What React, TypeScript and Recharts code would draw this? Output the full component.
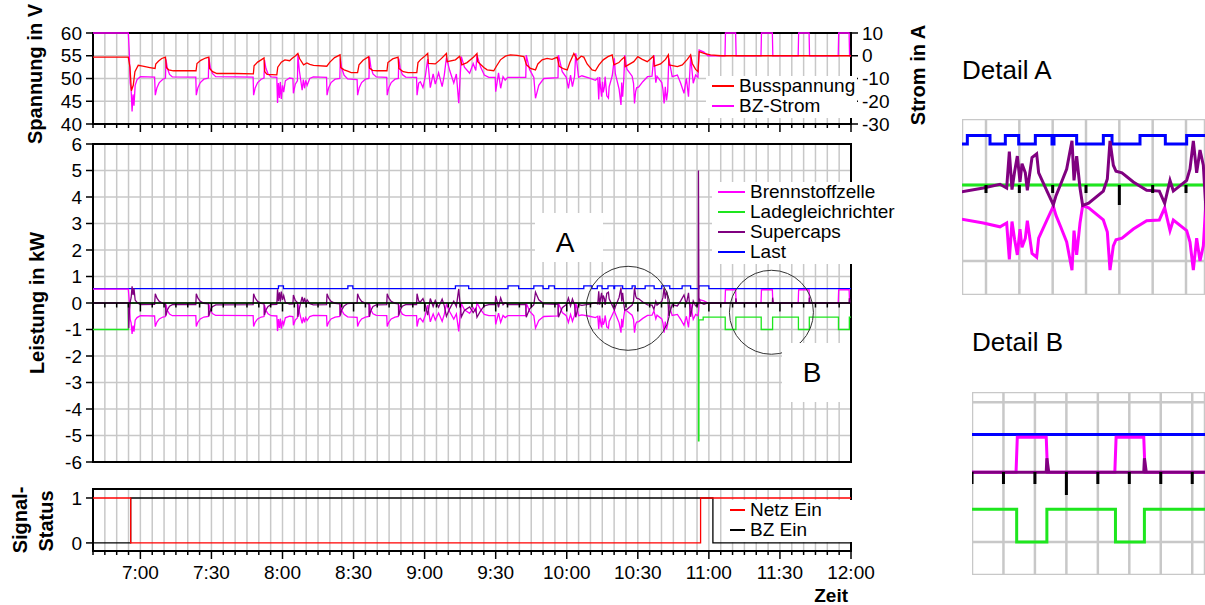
import React from 'react';
import { LineChart, Line, XAxis, YAxis, CartesianGrid, ReferenceArea, ReferenceDot, Legend } from 'recharts';

type Pt = [number, number];

// time in minutes since midnight (400 = 6:40, 720 = 12:00)
const busVoltage: Pt[] = [
  [400, 54.7], [414.9, 54.7], [415.6, 52.5], [416.2, 47.3], [417, 48.5], [417.7, 51.5], [419.1, 52.9], [421, 52.7], [424, 52.4], [426.2, 52.2],
  [426.5, 53.2], [427.6, 53.8], [429, 54.4], [430.6, 54.7], [431, 52.4], [432, 51.9], [433.9, 51.7], [443.5, 51.7], [443.9, 53.3], [445.5, 54],
  [447.5, 54.5], [448.9, 54.7], [449.2, 52.2], [450.5, 51.5], [452.3, 51.1], [460, 51.1], [467.7, 51], [468, 52.8], [469.5, 53.6], [471, 54.1],
  [472.2, 54.5], [472.5, 51.5], [473.5, 50.9], [477.6, 50.8], [478, 52.5], [479.5, 53.6], [481, 54.1], [483, 53.9], [484, 54.4], [485.5, 55],
  [486.5, 55.5], [487.2, 54.4], [488.9, 53], [490.3, 53.4], [491.5, 53.1], [493.1, 52.9], [498.7, 52.7], [500, 53.6], [502, 54.6], [504.3, 55.2],
  [504.6, 52.4], [506, 51.9], [507.5, 51.6], [509, 51.3], [511.7, 51.3], [512.3, 53], [514, 54], [516.4, 54.8], [516.7, 52.3], [518, 51.8],
  [520, 51.7], [524.1, 51.7], [524.5, 53.5], [526.5, 54.3], [528.8, 54.7], [529.1, 52.2], [531, 51.5], [533, 51.3], [536.7, 51.3], [537.2, 53.5],
  [538.2, 54.1], [539.6, 54.7], [541.3, 55.5], [541.6, 53.3], [544.5, 53.2], [546.7, 54.2], [549.2, 55.5], [549.5, 53.7], [553, 54.1], [554.8, 54.9],
  [555.7, 53], [557.9, 53.5], [560.7, 54.7], [562.1, 55.5], [562.4, 53.7], [565, 52.4], [566.4, 51.9], [569.2, 51.7], [570.3, 52.7], [572, 54.1],
  [574.1, 54.9], [576.2, 55.2], [579, 55.1], [581.9, 54.8], [583, 53], [584.7, 52.2], [586.8, 51.9], [587.8, 53.2], [589.6, 54.1], [591.7, 54.4],
  [593.8, 54.2], [596, 54.7], [596.8, 52.7], [598.8, 52.1], [600.2, 51.9], [601.3, 53.5], [603, 55.5], [604.4, 54.1], [606.1, 54.9], [607.2, 54.7],
  [608.6, 53.2], [610.7, 51.9], [612.1, 51.7], [613.6, 53], [615.4, 54.1], [617.4, 54.8], [619.2, 55.2], [619.9, 53], [622, 53.5], [623.2, 54.2],
  [624.4, 54.7], [624.7, 52.6], [628.3, 53.7], [630, 54.8], [631.9, 54.2], [634, 53.7], [636.6, 54.9], [636.9, 52.7], [639.6, 53.2], [641.7, 54.2],
  [642.9, 55.2], [643.2, 53], [646.7, 52.6], [648.8, 53], [650.9, 54.2], [652.3, 55.2], [653, 53.3], [654.4, 52], [655.4, 51.5], [655.9, 55.9],
  [657.9, 55.5], [660.7, 55.2], [665, 55], [720, 55],
];

const bzCurrent: Pt[] = [
  [400, 10], [414.9, 10], [415.3, 2], [415.7, -12], [416.1, -15], [416.5, -24.5], [416.9, -17], [417.3, -22], [417.8, -13], [418.6, -10.5], [420, -9.2], [426, -9.4],
  [426.3, -17.3], [427, -14], [428, -11.8], [429.5, -10.3], [430.6, -9.8], [430.8, -1.6], [431.4, -5.5], [432.3, -8.2], [433.5, -9.3], [443.4, -9.4],
  [443.6, -17.3], [444.3, -14], [445.3, -11.8], [446.8, -10.3], [448.7, -9.8], [448.9, -0.8], [449.5, -5], [450.4, -7.8], [451.8, -9.2], [467.6, -9.4],
  [467.8, -17.3], [468.5, -14], [469.5, -11.8], [471, -10.3], [472.2, -9.8], [472.4, -1.9], [473, -5.5], [473.9, -8], [475.2, -9.3], [477.6, -9.5],
  [477.9, -20.8], [478.3, -12], [478.7, -18.5], [479.1, -11.5], [479.5, -19], [480, -13], [480.5, -16], [481.2, -11], [483, -9.8], [484.4, -10],
  [484.6, -16.5], [485.4, -12.5], [486.3, -11], [486.5, 0.3], [487.1, -6.5], [487.8, -11.5], [488.3, -15.1], [488.8, -10.5], [489.3, -14.3], [489.8, -10.8],
  [490.4, -13], [491.5, -10], [493, -9.3], [498.6, -9.5],
  [498.8, -17.3], [499.5, -14], [500.5, -11.8], [502.2, -10.3], [504.2, -10], [504.4, -1.2], [505, -5.5], [506, -8.5], [507.5, -10.2], [511.5, -10.5],
  [511.7, -17.3], [512.4, -14], [513.4, -11.8], [515, -10.3], [516.5, -10], [516.7, -0.4], [517.3, -5], [518.2, -8], [519.6, -9.3], [524, -9.5],
  [524.2, -17.3], [524.9, -14], [525.9, -11.8], [527.5, -10.3], [528.9, -10], [529.1, -1.2], [529.7, -5.5], [530.6, -8.3], [532, -9.4], [536.6, -9.5],
  [536.8, -17.3], [537.5, -12], [538.2, -11.4], [539.3, -14], [540.3, -9], [541.3, -1.5], [542.4, -14], [543.6, -8], [544.5, -12.5], [545.9, -7.5],
  [547.4, -13.6], [548.3, -8.5], [549.2, -0.8], [550.6, -6.5], [552.3, -12], [553.4, -8], [554.4, -20.9], [555, -9], [555.5, -0.4], [556.8, -5],
  [559, -7.7], [560.5, -3.5], [561.6, -6.5], [562.1, 0.3], [563.6, -4.8], [565.2, -8.5], [567.1, -9.5], [569.8, -9.5], [570, -15.8], [571.2, -7.5],
  [572.1, -14.3], [573.1, -9.2], [574, -10.7], [575.1, -9.5], [582.7, -9.5], [582.9, 0.3], [584.3, -6], [586.1, -9.5], [586.8, -18.7], [588.2, -13],
  [590.3, -10], [596.3, -9.6], [596.5, 0.3], [598.1, -7], [599.8, -9.5], [600.7, -14.3], [601.6, -8.5], [602.4, -13.6], [603.3, -9], [603.8, 1.1], [605, -9.5],
  [606.4, -8.8], [609.6, -9.8], [612.1, -10.8], [613.1, -9.8], [613.5, -19.2], [613.9, -9.4], [614.3, -14.1], [614.7, -18], [615.1, -11.4], [615.4, -16.1],
  [615.9, -13.7], [616.2, -9.2], [616.9, -17.6], [617.6, -18.6], [617.9, -13.7], [619.2, -8.8], [620.1, -1.1], [620.5, -7.8], [621.2, -10.8], [622.1, -14.7],
  [622.9, -21.6], [623.2, -11.8], [623.6, -18], [624.1, -9.8], [624.5, 0.3], [625.4, -5.9], [627.6, -9], [628.2, -12.2], [628.6, -21], [629.1, -15.7],
  [629.5, -14.1], [630.4, -13.7], [632.1, -11.4], [634.1, -9.2], [636, -9], [636.8, 0.3], [637.6, -11.8], [638.1, -9], [640.1, -11.8], [640.6, -14.7],
  [641.1, -21], [641.6, -13.7], [642.1, -19.6], [642.6, -15.7], [643.1, -1.1], [644.5, -9.2], [646.7, -8.5], [648.1, -12.1], [649.5, -16.5], [650.5, -9.9],
  [651.4, -18], [652.3, -0.4], [653.4, -12.1], [654.4, -8.5], [655.4, -9.5],
  [655.9, 2.5], [657.9, 1.6], [659.6, 0], [666.8, 0], [667, 10], [671.3, 10], [671.5, 0], [682, 0], [682.2, 10], [686.8, 10], [687, 0],
  [697.7, 0], [697.9, 10], [702.3, 10], [702.5, 0], [714.6, 0], [714.8, 10], [719.2, 10], [719.4, 0], [720, 0],
];

const fuelCellPower: Pt[] = [
  [400, 0.52], [414.9, 0.52], [415.3, 0.1], [415.7, -0.62], [416.1, -0.75], [416.5, -1.17], [416.9, -0.85], [417.3, -1.08], [417.8, -0.65], [418.6, -0.55], [420, -0.48], [426, -0.49],
  [426.3, -0.89], [427, -0.72], [428, -0.6], [429.5, -0.53], [430.6, -0.51], [430.8, -0.06], [431.4, -0.28], [432.3, -0.42], [433.5, -0.48], [443.4, -0.48],
  [443.6, -0.89], [444.3, -0.72], [445.3, -0.6], [446.8, -0.53], [448.7, -0.51], [448.9, -0.04], [449.5, -0.26], [450.4, -0.4], [451.8, -0.47], [467.6, -0.48],
  [467.8, -0.89], [468.5, -0.72], [469.5, -0.6], [471, -0.53], [472.2, -0.51], [472.4, -0.08], [473, -0.28], [473.9, -0.41], [475.2, -0.48], [477.6, -0.49],
  [477.9, -1.06], [478.3, -0.61], [478.7, -0.94], [479.1, -0.59], [479.5, -0.97], [480, -0.66], [480.5, -0.82], [481.2, -0.56], [483, -0.5], [484.4, -0.51],
  [484.6, -0.84], [485.4, -0.64], [486.3, -0.56], [486.5, -0.02], [487.1, -0.33], [487.8, -0.59], [488.3, -0.77], [488.8, -0.54], [489.3, -0.73], [489.8, -0.55],
  [490.4, -0.66], [491.5, -0.51], [493, -0.47], [498.6, -0.48],
  [498.8, -0.89], [499.5, -0.72], [500.5, -0.6], [502.2, -0.53], [504.2, -0.51], [504.4, -0.06], [505, -0.28], [506, -0.43], [507.5, -0.52], [511.5, -0.54],
  [511.7, -0.89], [512.4, -0.72], [513.4, -0.6], [515, -0.53], [516.5, -0.51], [516.7, -0.02], [517.3, -0.26], [518.2, -0.41], [519.6, -0.47], [524, -0.48],
  [524.2, -0.89], [524.9, -0.72], [525.9, -0.6], [527.5, -0.53], [528.9, -0.51], [529.1, -0.06], [529.7, -0.28], [530.6, -0.42], [532, -0.48], [536.6, -0.48],
  [536.8, -0.89], [537.5, -0.61], [538.2, -0.58], [539.3, -0.71], [540.3, -0.46], [541.3, -0.08], [542.4, -0.71], [543.6, -0.41], [544.5, -0.64], [545.9, -0.38],
  [547.4, -0.69], [548.3, -0.43], [549.2, -0.04], [550.6, -0.33], [552.3, -0.61], [553.4, -0.41], [554.4, -1.07], [555, -0.46], [555.5, -0.02], [556.8, -0.26],
  [559, -0.39], [560.5, -0.18], [561.6, -0.33], [562.1, 0], [563.6, -0.24], [565.2, -0.43], [567.1, -0.48], [569.8, -0.48], [570, -0.81], [571.2, -0.38],
  [572.1, -0.73], [573.1, -0.47], [574, -0.55], [575.1, -0.48], [582.7, -0.48], [582.9, 0], [584.3, -0.31], [586.1, -0.48], [586.8, -0.95], [588.2, -0.66],
  [590.3, -0.51], [596.3, -0.49], [596.5, 0], [598.1, -0.36], [599.8, -0.48], [600.7, -0.73], [601.6, -0.43], [602.4, -0.69], [603.3, -0.46], [603.8, 0], [605, -0.48],
  [606.4, -0.45], [609.6, -0.5], [612.1, -0.55], [613.1, -0.5], [613.5, -0.98], [613.9, -0.48], [614.3, -0.72], [614.7, -0.92], [615.1, -0.58], [615.4, -0.82],
  [615.9, -0.7], [616.2, -0.47], [616.9, -0.9], [617.6, -0.95], [617.9, -0.7], [619.2, -0.45], [620.1, -0.28], [620.5, -0.4], [621.2, -0.55], [622.1, -0.75],
  [622.9, -1.12], [623.2, -0.6], [623.6, -0.92], [624.1, -0.5], [624.5, -0.27], [625.4, -0.3], [627.6, -0.46], [628.2, -0.62], [628.6, -1.12], [629.1, -0.8],
  [629.5, -0.72], [630.4, -0.7], [632.1, -0.58], [634.1, -0.47], [636, -0.46], [636.8, -0.3], [637.6, -0.6], [638.1, -0.46], [640.1, -0.6], [640.6, -0.75],
  [641.1, -1.12], [641.6, -0.7], [642.1, -1], [642.6, -0.8], [643.1, -0.06], [644.5, -0.47], [646.7, -0.43], [648.1, -0.62], [649.5, -0.84], [650.5, -0.5],
  [651.4, -0.92], [652.3, -0.02], [653.4, -0.62], [654.4, -0.43], [655.4, -0.48],
  [655.7, -0.3], [655.9, 0.13], [657.9, 0.08], [659.6, 0], [666.8, 0], [667, 0.5], [671.3, 0.5], [671.5, 0], [682, 0], [682.2, 0.5], [686.8, 0.5], [687, 0],
  [697.7, 0], [697.9, 0.5], [702.3, 0.5], [702.5, 0], [714.6, 0], [714.8, 0.5], [719.2, 0.5], [719.4, 0], [720, 0],
];

const supercapPower: Pt[] = [
  [400, 0], [414.9, 0], [415.1, -0.95], [415.4, -0.25], [415.8, 0.08], [416.1, 0.2], [416.5, 0.63], [416.9, 0.3], [417.3, 0.55], [417.8, 0.11], [418.6, 0.02], [420, -0.06], [426, -0.05],
  [426.3, 0.35], [427, 0.18], [428, 0.06], [429.5, -0.01], [430.6, -0.03], [430.8, -0.48], [431.4, -0.26], [432.3, -0.12], [433.5, -0.06], [443.4, -0.06],
  [443.6, 0.35], [444.3, 0.18], [445.3, 0.06], [446.8, -0.01], [448.7, -0.03], [448.9, -0.5], [449.5, -0.28], [450.4, -0.14], [451.8, -0.07], [467.6, -0.06],
  [467.8, 0.35], [468.5, 0.18], [469.5, 0.06], [471, -0.01], [472.2, -0.03], [472.4, -0.46], [473, -0.26], [473.9, -0.13], [475.2, -0.06], [477.6, -0.05],
  [477.9, 0.52], [478.3, 0.07], [478.7, 0.4], [479.1, 0.05], [479.5, 0.43], [480, 0.12], [480.5, 0.28], [481.2, 0.02], [483, -0.04], [484.4, -0.03],
  [484.6, 0.3], [485.4, 0.1], [486.3, 0.02], [486.5, -0.52], [487.1, -0.21], [487.8, 0.05], [488.3, 0.23], [488.8, 0], [489.3, 0.19], [489.8, 0.01],
  [490.4, 0.12], [491.5, -0.03], [493, -0.07], [498.6, -0.06],
  [498.8, 0.35], [499.5, 0.18], [500.5, 0.06], [502.2, -0.01], [504.2, -0.03], [504.4, -0.48], [505, -0.26], [506, -0.11], [507.5, -0.02], [511.5, 0],
  [511.7, 0.35], [512.4, 0.18], [513.4, 0.06], [515, -0.01], [516.5, -0.03], [516.7, -0.52], [517.3, -0.28], [518.2, -0.13], [519.6, -0.07], [524, -0.06],
  [524.2, 0.35], [524.9, 0.18], [525.9, 0.06], [527.5, -0.01], [528.9, -0.03], [529.1, -0.48], [529.7, -0.26], [530.6, -0.12], [532, -0.06], [536.6, -0.06],
  [536.8, 0.35], [537.5, 0.07], [538.2, 0.04], [539.3, 0.17], [540.3, -0.08], [541.3, -0.46], [542.4, 0.17], [543.6, -0.13], [544.5, 0.1], [545.9, -0.16],
  [547.4, 0.15], [548.3, -0.11], [549.2, -0.5], [550.6, -0.21], [552.3, 0.07], [553.4, -0.13], [554.4, 0.53], [555, -0.08], [555.5, -0.52], [556.8, -0.28],
  [559, -0.15], [560.5, -0.36], [561.6, -0.21], [562.1, -0.54], [563.6, -0.3], [565.2, -0.11], [567.1, -0.06], [569.8, -0.06], [570, 0.27], [571.2, -0.16],
  [572.1, 0.19], [573.1, -0.07], [574, 0.01], [575.1, -0.06], [582.7, -0.06], [582.9, -0.54], [584.3, -0.23], [586.1, -0.06], [586.8, 0.41], [588.2, 0.12],
  [590.3, -0.03], [596.3, -0.05], [596.5, -0.54], [598.1, -0.18], [599.8, -0.06], [600.7, 0.19], [601.6, -0.11], [602.4, 0.15], [603.3, -0.08], [603.8, -0.54], [605, -0.06],
  [606.4, -0.09], [609.6, -0.04], [612.1, 0.01], [613.1, -0.04], [613.5, 0.44], [613.9, -0.06], [614.3, 0.18], [614.7, 0.38], [615.1, 0.04], [615.4, 0.28],
  [615.9, 0.16], [616.2, -0.07], [616.9, 0.36], [617.6, 0.41], [617.9, 0.16], [619.2, -0.09], [620.1, -0.26], [620.5, -0.14], [621.2, 0.01], [622.1, 0.21],
  [622.9, 0.58], [623.2, 0.06], [623.6, 0.38], [624.1, -0.04], [624.5, -0.27], [625.4, -0.24], [627.6, -0.08], [628.2, 0.08], [628.6, 0.58], [629.1, 0.26],
  [629.5, 0.18], [630.4, 0.16], [632.1, 0.04], [634.1, -0.07], [636, -0.08], [636.8, -0.24], [637.6, 0.06], [638.1, -0.08], [640.1, 0.06], [640.6, 0.21],
  [641.1, 0.58], [641.6, 0.16], [642.1, 0.46], [642.6, 0.26], [643.1, -0.48], [644.5, -0.07], [646.7, -0.11], [648.1, 0.08], [649.5, 0.3], [650.5, -0.04],
  [651.4, 0.38], [652.3, -0.52], [653.4, 0.08], [654.4, -0.11], [655.4, -0.06],
  [655.5, 0], [655.6, 5], [655.8, 0.2], [656.3, 0.03], [657.9, -0.05], [659.6, 0], [671.3, 0], [671.4, 0.18], [671.7, 0], [686.8, 0], [686.9, 0.2], [687.2, 0],
  [702.3, 0], [702.4, 0.2], [702.7, 0], [719.2, 0], [719.3, 0.18], [719.6, 0], [720, 0],
];

// step series
const rectifierPower: Pt[] = [
  [400, -1], [414.9, 0], [655.6, -5.2], [655.8, -0.64], [657.6, -0.53], [666.9, -1], [671.4, -0.53], [682.1, -1], [686.9, -0.53],
  [697.8, -1], [702.4, -0.53], [714.7, -1], [719.3, -0.53], [720, -0.53],
];

const loadPower: Pt[] = [
  [400, 0.54], [478.3, 0.65], [480.4, 0.54], [507.6, 0.65], [509.7, 0.54], [553, 0.65], [558.6, 0.54], [575.2, 0.65], [579.7, 0.54],
  [586.1, 0.65], [590, 0.54], [592.4, 0.65], [594.8, 0.54], [607.2, 0.65], [610.6, 0.54], [612.9, 0.65], [614.9, 0.54], [617.4, 0.65],
  [619.9, 0.54], [620.2, 0.65], [623.6, 0.54], [627.6, 0.65], [628.9, 0.54], [633.1, 0.65], [636.9, 0.54], [640.1, 0.65], [643.5, 0.54],
  [648.7, 0.65], [652.3, 0.54], [655.8, 0.65], [660, 0.54], [720, 0.54],
];

const gridOn: Pt[] = [[400, 1], [415.9, 0], [656.5, 1], [720, 1]];
const fuelCellOn: Pt[] = [[400, 0], [415.9, 1], [661.7, 0], [720, 0]];

const timeTicks = [
  400, 405, 410, 415, 420, 425, 430, 435, 440, 445, 450, 455, 460, 465, 470, 475, 480, 485, 490, 495, 500, 505,
  510, 515, 520, 525, 530, 535, 540, 545, 550, 555, 560, 565, 570, 575, 580, 585, 590, 595, 600, 605, 610, 615,
  620, 625, 630, 635, 640, 645, 650, 655, 660, 665, 670, 675, 680, 685, 690, 695, 700, 705, 710, 715, 720,
];
const detailATicks = [610, 615, 620, 625, 630, 635, 640];
const detailBTicks = [675, 680, 685, 690, 695, 700, 705, 710];
const voltTicks = [40, 45, 50, 55, 60];
const ampTicks = [-30, -20, -10, 0, 10];
const kwTicks = [-6, -5, -4, -3, -2, -1, 0, 1, 2, 3, 4, 5, 6];
const detailAKwTicks = [-1, 0];
const detailBKwTicks = [-1, 0, 1];
const statusTicks = [0, 1];

const COL = {
  bus: '#ff0000',
  bzI: '#ff00ff',
  bz: '#ff00ff',
  lade: '#1ee61e',
  sc: '#800080',
  last: '#0000ff',
  netz: '#ff0000',
  bzEin: '#000000',
};

const topLegend = [
  { name: 'Busspannung', color: COL.bus },
  { name: 'BZ-Strom', color: COL.bzI },
];
const powerLegend = [
  { name: 'Brennstoffzelle', color: COL.bz },
  { name: 'Ladegleichrichter', color: COL.lade },
  { name: 'Supercaps', color: COL.sc },
  { name: 'Last', color: COL.last },
];
const statusLegend = [
  { name: 'Netz Ein', color: COL.netz },
  { name: 'BZ Ein', color: COL.bzEin },
];

const FONT = "'Liberation Sans', Arial, sans-serif";
const GRID = '#c8c8c8';
const yTick = { fontSize: 19, fill: '#000', fontFamily: FONT };

const pts = (a: Pt[]) => a.map(([t, v]) => ({ t, v }));

const fmtTime = (v: number) => `${Math.floor(v / 60)}:${String(v % 60).padStart(2, '0')}`;

function TimeTick(props: any) {
  const { x, y, payload, short = 4, long = 8, sw = 1.5, showLabel = false } = props;
  const major = payload.value % 30 === 0;
  return (
    <g>
      <line x1={x} x2={x} y1={y} y2={y + (major ? long : short)} stroke="#000" strokeWidth={sw} />
      {showLabel && major ? (
        <text x={x} y={y + 28} textAnchor="middle" fontSize={19} fill="#000" fontFamily={FONT}>
          {fmtTime(payload.value)}
        </text>
      ) : null}
    </g>
  );
}

function LegendBox({ items, sample, padL, padR }: any) {
  return (
    <div style={{ background: '#fff', padding: `0 ${padR}px 2px ${padL}px`, fontFamily: FONT, fontSize: 19, color: '#000' }}>
      {items.map((it: any) => (
        <div key={it.name} style={{ display: 'flex', alignItems: 'center', height: 20, whiteSpace: 'nowrap' }}>
          <span style={{ display: 'inline-block', width: sample, borderTop: `2px solid ${it.color}`, marginRight: 5 }} />
          {it.name}
        </div>
      ))}
    </div>
  );
}

function VTitle({ x, y, children }: any) {
  return (
    <div
      style={{
        position: 'absolute', left: x, top: y, transform: 'translate(-50%, -50%) rotate(-90deg)',
        whiteSpace: 'nowrap', fontWeight: 'bold', fontSize: 20, fontFamily: FONT, color: '#000',
      }}
    >
      {children}
    </div>
  );
}

// black time axis drawn along the 0 kW line
function ZeroAxis({ left, top, width, zero, domain, ticks, short, long, sw, line }: any) {
  return (
    <div style={{ position: 'absolute', left, top }}>
      <LineChart width={width} height={zero + 30} margin={{ top: 0, right: 0, bottom: 0, left: 0 }} data={ticks.map((t: number) => ({ t }))}>
        <XAxis
          type="number" dataKey="t" domain={domain} allowDataOverflow ticks={ticks} interval={0} height={30}
          tickSize={0} tickMargin={0} tickLine={false}
          axisLine={line ? { stroke: '#000', strokeWidth: 1.5 } : false}
          tick={(p: any) => <TimeTick {...p} short={short} long={long} sw={sw} />}
        />
        <YAxis hide domain={[0, 1]} />
      </LineChart>
    </div>
  );
}

const powerLines = (w: number) => [
  <Line key="lade" data={pts(rectifierPower)} dataKey="v" type="stepAfter" stroke={COL.lade} strokeWidth={w} dot={false} isAnimationActive={false} />,
  <Line key="last" data={pts(loadPower)} dataKey="v" type="stepAfter" stroke={COL.last} strokeWidth={w} dot={false} isAnimationActive={false} />,
  <Line key="bz" data={pts(fuelCellPower)} dataKey="v" type="linear" stroke={COL.bz} strokeWidth={w} dot={false} isAnimationActive={false} />,
  <Line key="sc" data={pts(supercapPower)} dataKey="v" type="linear" stroke={COL.sc} strokeWidth={w} dot={false} isAnimationActive={false} />,
];

function DetailChart({ left, top, width, height, domain, kw, ticks, kwTicks: kt }: any) {
  return (
    <div style={{ position: 'absolute', left, top }}>
      <LineChart width={width} height={height} margin={{ top: 0, right: 0, bottom: 0, left: 0 }}>
        <CartesianGrid stroke={GRID} strokeWidth={2.5} />
        <XAxis hide type="number" dataKey="t" domain={domain} allowDataOverflow ticks={ticks} interval={0} />
        <YAxis hide domain={kw} allowDataOverflow ticks={kt} interval={0} />
        {powerLines(3)}
      </LineChart>
    </div>
  );
}

export default function App() {
  return (
    <div style={{ position: 'absolute', left: 0, top: 0, width: 1205, height: 605, background: '#fff', fontFamily: FONT, overflow: 'hidden' }}>
      {/* voltage / current */}
      <div style={{ position: 'absolute', left: 0, top: 0 }}>
        <LineChart width={960} height={145} margin={{ top: 33, right: 49, bottom: 0, left: 33 }}>
          <CartesianGrid yAxisId="v" stroke={GRID} strokeWidth={1.5} />
          <XAxis
            type="number" dataKey="t" domain={[400, 720]} ticks={timeTicks} interval={0} height={21}
            tickSize={0} tickMargin={0} tickLine={false} axisLine={false}
            tick={(p: any) => <TimeTick {...p} />}
          />
          <YAxis yAxisId="v" domain={[40, 60]} ticks={voltTicks} interval={0} width={60} axisLine={false}
            tickSize={7} tickMargin={4} tickLine={{ stroke: '#000', strokeWidth: 1.5 }} tick={yTick} />
          <YAxis yAxisId="a" orientation="right" domain={[-30, 10]} ticks={ampTicks} interval={0} width={60} axisLine={false}
            tickSize={7} tickMargin={4} tickLine={{ stroke: '#000', strokeWidth: 1.5 }} tick={yTick} />
          <ReferenceArea yAxisId="v" x1={400} x2={720} y1={40} y2={60} fill="none" stroke="#000" strokeWidth={2} />
          <Line yAxisId="a" data={pts(bzCurrent)} dataKey="v" stroke={COL.bzI} strokeWidth={1.3} dot={false} isAnimationActive={false} />
          <Line yAxisId="v" data={pts(busVoltage)} dataKey="v" stroke={COL.bus} strokeWidth={1.3} dot={false} isAnimationActive={false} />
          <Legend layout="vertical" verticalAlign="middle" align="center" wrapperStyle={{ left: 706, top: 76, width: 'auto' }}
            content={() => <LegendBox items={topLegend} sample={22} padL={6} padR={2} />} />
        </LineChart>
      </div>

      {/* power */}
      <div style={{ position: 'absolute', left: 0, top: 128 }}>
        <LineChart width={960} height={350} margin={{ top: 16, right: 109, bottom: 16, left: 33 }}>
          <CartesianGrid stroke={GRID} strokeWidth={1.5} />
          <XAxis hide type="number" dataKey="t" domain={[400, 720]} ticks={timeTicks} interval={0} />
          <YAxis domain={[-6, 6]} ticks={kwTicks} interval={0} width={60} axisLine={false}
            tickSize={7} tickMargin={4} tickLine={{ stroke: '#000', strokeWidth: 1.5 }} tick={yTick} />
          <ReferenceArea x1={400} x2={720} y1={-6} y2={6} fill="none" stroke="#000" strokeWidth={2} />
          {powerLines(1.3)}
          <ReferenceDot x={625.9} y={-0.2} r={42} fill="none" stroke="#333" strokeWidth={1} />
          <ReferenceDot x={686.4} y={-0.35} r={42} fill="none" stroke="#333" strokeWidth={1} />
          <Legend layout="vertical" verticalAlign="middle" align="center" wrapperStyle={{ left: 712, top: 54, width: 'auto' }}
            content={() => <LegendBox items={powerLegend} sample={27} padL={6} padR={8} />} />
        </LineChart>
      </div>

      {/* signal status */}
      <div style={{ position: 'absolute', left: 0, top: 480 }}>
        <LineChart width={960} height={125} margin={{ top: 9, right: 109, bottom: 0, left: 33 }}>
          <CartesianGrid stroke={GRID} strokeWidth={1.5} horizontal={false} />
          <XAxis
            type="number" dataKey="t" domain={[400, 720]} ticks={timeTicks} interval={0} height={54}
            tickSize={0} tickMargin={0} tickLine={false} axisLine={false}
            tick={(p: any) => <TimeTick {...p} showLabel />}
            label={{ value: 'Zeit', position: 'insideBottomRight', offset: 3, style: { fontWeight: 'bold', fontSize: 19, fill: '#000', fontFamily: FONT } }}
          />
          <YAxis domain={[-0.18, 1.2]} ticks={statusTicks} interval={0} width={60} axisLine={false}
            tickSize={7} tickMargin={4} tickLine={{ stroke: '#000', strokeWidth: 1.5 }} tick={yTick} />
          <ReferenceArea x1={400} x2={720} y1={-0.18} y2={1.2} fill="none" stroke="#000" strokeWidth={2} />
          <Line data={pts(fuelCellOn)} dataKey="v" type="stepAfter" stroke={COL.bzEin} strokeWidth={1.3} dot={false} isAnimationActive={false} />
          <Line data={pts(gridOn)} dataKey="v" type="stepAfter" stroke={COL.netz} strokeWidth={1.3} dot={false} isAnimationActive={false} />
          <Legend layout="vertical" verticalAlign="middle" align="center" wrapperStyle={{ left: 722, top: 20, width: 'auto' }}
            content={() => <LegendBox items={statusLegend} sample={15} padL={8} padR={40} />} />
        </LineChart>
      </div>

      <ZeroAxis left={93} top={0} width={758} zero={303} domain={[400, 720]} ticks={timeTicks} short={4.5} long={8.5} sw={1.5} line />

      {/* detail views */}
      <div style={{ position: 'absolute', left: 962, top: 54, fontSize: 26, lineHeight: '32px' }}>Detail A</div>
      <DetailChart left={962} top={119} width={243} height={176} domain={[606.4, 642.85]} kw={[-1.447, 0.868]} ticks={detailATicks} kwTicks={detailAKwTicks} />
      <ZeroAxis left={962} top={119} width={243} zero={66} domain={[606.4, 642.85]} ticks={detailATicks} short={8} long={20} sw={3} line={false} />

      <div style={{ position: 'absolute', left: 972, top: 326, fontSize: 26, lineHeight: '32px' }}>Detail B</div>
      <DetailChart left={972} top={392} width={233} height={183} domain={[675, 712.03]} kw={[-1.471, 1.147]} ticks={detailBTicks} kwTicks={detailBKwTicks} />
      <ZeroAxis left={972} top={392} width={233} zero={80} domain={[675, 712.03]} ticks={detailBTicks} short={12} long={23} sw={3} line={false} />

      {/* annotation labels */}
      <div style={{ position: 'absolute', left: 535, top: 213, width: 68, height: 49, background: '#fff' }}>
        <span style={{ position: 'absolute', left: 30, top: 30, transform: 'translate(-50%, -50%)', fontSize: 28 }}>A</span>
      </div>
      <div style={{ position: 'absolute', left: 782, top: 343, width: 68, height: 59, background: '#fff' }}>
        <span style={{ position: 'absolute', left: 30, top: 30, transform: 'translate(-50%, -50%)', fontSize: 28 }}>B</span>
      </div>

      {/* axis titles */}
      <VTitle x={35} y={74}>Spannung in V</VTitle>
      <VTitle x={918} y={75}>Strom in A</VTitle>
      <VTitle x={37} y={303}>Leistung in kW</VTitle>
      <VTitle x={20} y={520}>Signal-</VTitle>
      <VTitle x={46} y={521}>Status</VTitle>
    </div>
  );
}
